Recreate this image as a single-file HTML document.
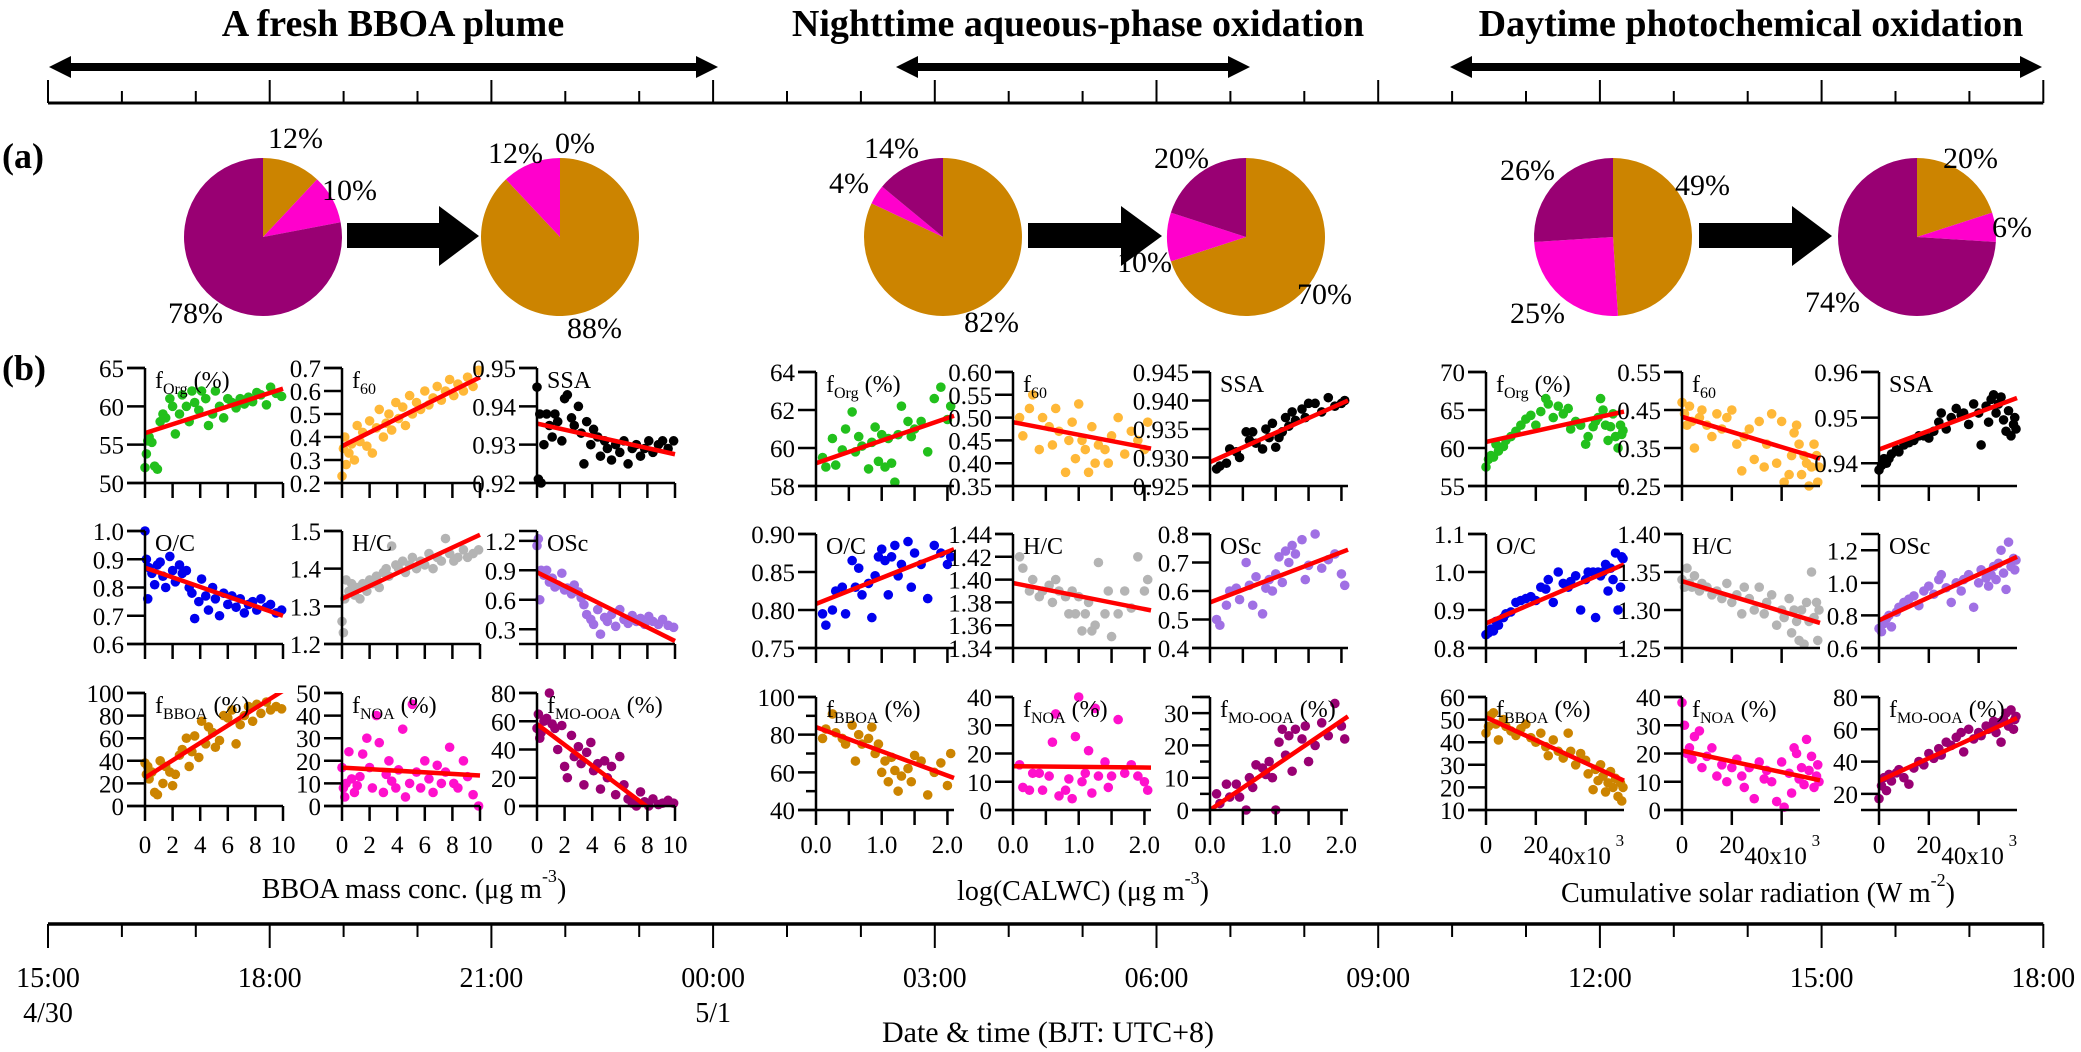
<!DOCTYPE html>
<html><head><meta charset="utf-8"><style>
html,body{margin:0;padding:0;background:#fff;}
svg{display:block;font-family:"Liberation Serif",serif;}
svg text{font-family:"Liberation Serif",serif;}
</style></head><body>
<svg id="fig" xmlns="http://www.w3.org/2000/svg" width="2081" height="1052" viewBox="0 0 2081 1052" font-family="Liberation Serif, serif">
<rect width="2081" height="1052" fill="#fff"/>
<g font-weight="bold" font-size="38" text-anchor="middle">
<text x="393" y="36">A fresh BBOA plume</text>
<text x="1078" y="36">Nighttime aqueous-phase oxidation</text>
<text x="1751" y="36">Daytime photochemical oxidation</text>
</g>
<text x="2" y="168" font-size="36" font-weight="bold">(a)</text>
<text x="2" y="380" font-size="36" font-weight="bold">(b)</text>
<g id="top"></g>
<g id="pies"></g>
<g id="panels"></g>
<g id="bottom"></g>
</svg>
<script>
// ---------- data ----------
const pieBBOA = [12, 88, 82, 70, 49, 20];
const pieNOA  = [10, 12, 4, 10, 25, 6];
const pieMO   = [78, 0, 14, 20, 26, 74];
const timeLabels = ["15:00","18:00","21:00","00:00","03:00","06:00","09:00","12:00","15:00","18:00"];
const dateLabels = ["4/30","","","5/1","","","","","",""];

const xBBOA = [0,0.1,0.2,0.3,0.5,0.7,0.9,1.1,1.3,1.5,1.8,2.0,2.2,2.5,2.7,3.0,3.2,3.4,3.6,3.9,4.1,4.4,4.6,4.9,5.1,5.4,5.7,6.0,6.3,6.6,6.9,7.2,7.5,7.8,8.1,8.4,8.8,9.1,9.5,9.9];
const xCALWC = [0.1,0.15,0.25,0.3,0.4,0.45,0.55,0.6,0.65,0.7,0.8,0.85,0.9,0.95,1.0,1.05,1.1,1.15,1.2,1.25,1.3,1.4,1.45,1.5,1.6,1.7,1.8,1.9,2.0,2.05];
const xSolar = [0,1,2,3,4,5,7,8,10,12,14,16,18,20,22,24,25,27,29,31,33,34,36,38,40,41,43,44,45,46,47,48,49,50,51,52,53,54,54.5,55];

const g1_fOrg = [52,53.8,55.5,56,55.3,52.2,51.8,58,59,58.5,61,60,56.4,59,61.5,60,58,62,60.5,59.5,62,61,57.5,59,62,60,58.5,61,60.5,59.8,61,60.3,61.2,60.6,61.8,61.5,60.2,62.5,61.7,61.3];
const g1_f60 = [0.23,0.35,0.4,0.28,0.33,0.37,0.3,0.45,0.38,0.42,0.36,0.47,0.33,0.44,0.52,0.4,0.46,0.5,0.43,0.55,0.48,0.53,0.45,0.58,0.5,0.55,0.52,0.6,0.54,0.57,0.62,0.56,0.6,0.65,0.58,0.63,0.6,0.66,0.62,0.69];
const g1_SSA = [0.945,0.921,0.938,0.920,0.930,0.938,0.935,0.932,0.938,0.936,0.931,0.942,0.943,0.937,0.935,0.940,0.933,0.925,0.936,0.930,0.934,0.932,0.927,0.931,0.929,0.926,0.930,0.928,0.931,0.925,0.929,0.930,0.927,0.929,0.931,0.928,0.930,0.931,0.929,0.931];
const g1_OC = [1.0,0.90,0.76,0.87,0.85,0.81,0.88,0.89,0.84,0.80,0.91,0.86,0.82,0.88,0.85,0.86,0.80,0.78,0.69,0.75,0.83,0.77,0.72,0.80,0.76,0.70,0.78,0.74,0.77,0.73,0.76,0.71,0.74,0.75,0.72,0.76,0.73,0.74,0.71,0.72];
const g1_HC = [1.26,1.23,1.32,1.37,1.34,1.36,1.33,1.35,1.32,1.36,1.34,1.37,1.36,1.38,1.35,1.39,1.40,1.38,1.46,1.41,1.40,1.42,1.39,1.41,1.43,1.40,1.42,1.41,1.44,1.40,1.43,1.42,1.48,1.44,1.42,1.43,1.45,1.43,1.44,1.45];
const g1_OSc = [1.15,1.22,0.6,0.9,0.85,0.9,0.78,0.82,0.73,0.75,0.87,0.7,0.72,0.66,0.75,0.68,0.62,0.55,0.45,0.4,0.35,0.5,0.25,0.42,0.38,0.45,0.33,0.5,0.4,0.36,0.44,0.38,0.41,0.35,0.43,0.38,0.35,0.40,0.34,0.32];
const g1_fBBOA = [38,28,35,24,30,12,10,40,20,35,30,18,28,45,50,60,35,48,62,43,75,55,70,65,52,58,80,78,85,55,72,80,88,75,90,82,92,85,88,86];
const g1_fNOA = [17,8,4,10,24,12,6,9,13,23,30,17,8,40,28,6,14,20,11,8,16,34,4,10,45,15,8,20,12,6,18,10,15,26,10,8,20,13,5,0];
const g1_fMO = [55,65,48,52,60,62,80,58,55,40,57,28,20,50,35,42,30,15,38,45,25,30,12,32,20,28,8,35,15,5,2,0,10,3,0,5,1,2,4,2];

const g2_fOrg = [59.5,59.0,60.5,59.1,59.9,61.0,61.9,59.8,60.6,60.1,58.9,60.3,61.1,59.3,60.7,59.0,60.5,59.2,58.2,60.7,62.2,61.4,60.6,61.0,61.4,59.8,62.6,63.2,61.5,62.2];
const g2_f60 = [0.50,0.46,0.52,0.55,0.43,0.50,0.48,0.44,0.52,0.47,0.38,0.45,0.49,0.41,0.53,0.45,0.43,0.38,0.48,0.40,0.44,0.43,0.40,0.46,0.50,0.42,0.47,0.45,0.43,0.49];
const g2_SSA = [0.928,0.9285,0.929,0.9315,0.931,0.930,0.9345,0.933,0.9345,0.9325,0.9315,0.935,0.9335,0.936,0.9318,0.9335,0.9345,0.937,0.9355,0.938,0.9365,0.9385,0.937,0.9395,0.9395,0.938,0.9405,0.939,0.9395,0.940];
const g2_OC = [0.795,0.78,0.80,0.825,0.83,0.795,0.865,0.83,0.855,0.82,0.835,0.79,0.845,0.87,0.88,0.865,0.82,0.87,0.885,0.845,0.86,0.89,0.83,0.875,0.86,0.815,0.885,0.875,0.86,0.87];
const g2_HC = [1.42,1.41,1.39,1.40,1.385,1.39,1.395,1.38,1.40,1.39,1.385,1.37,1.39,1.37,1.385,1.355,1.37,1.38,1.355,1.36,1.415,1.37,1.39,1.35,1.37,1.39,1.375,1.42,1.39,1.40];
const g2_OSc = [0.50,0.48,0.55,0.60,0.61,0.57,0.70,0.62,0.55,0.65,0.52,0.61,0.64,0.60,0.66,0.72,0.63,0.74,0.70,0.76,0.73,0.78,0.64,0.69,0.80,0.68,0.71,0.73,0.66,0.62];
const g2_fBBOA = [78,83,91,81,78,75,85,66,80,75,78,84,70,75,60,66,55,68,61,50,58,62,55,69,66,48,60,65,53,70];
const g2_fNOA = [16,8,7,13,13,7,12,24,34,5,7,11,4,26,40,10,13,21,6,36,12,17,8,12,32,13,16,12,10,7];
const g2_fMO = [5,2,8,4,8,4,0,10,7,14,13,11,15,10,0,21,25,17,23,12,25,22,26,15,20,27,23,33,26,22];

const g3_fOrg = [57.5,58.5,59,58.8,60.5,59.6,60.2,61,61.5,62.2,63,63.8,64.3,63,64.8,66.5,65.8,64,65.5,64.5,65.2,62.5,63.5,63,60.5,61.5,62.8,63.5,64,66.5,65,63,61,62.8,64.5,61.5,60,63,61.8,62.3];
const g3_f60 = [0.47,0.44,0.41,0.46,0.42,0.35,0.43,0.45,0.41,0.38,0.44,0.40,0.43,0.45,0.36,0.29,0.38,0.40,0.32,0.42,0.30,0.36,0.44,0.31,0.42,0.26,0.28,0.33,0.39,0.41,0.36,0.28,0.33,0.31,0.25,0.30,0.36,0.33,0.26,0.30];
const g3_SSA = [0.9385,0.9395,0.941,0.940,0.941,0.942,0.943,0.9425,0.944,0.9445,0.945,0.946,0.946,0.9455,0.947,0.949,0.951,0.9475,0.950,0.952,0.9505,0.951,0.9485,0.953,0.951,0.944,0.9525,0.949,0.954,0.955,0.951,0.953,0.9545,0.9495,0.947,0.9515,0.946,0.9485,0.950,0.9475];
const g3_OC = [0.835,0.84,0.85,0.845,0.87,0.86,0.88,0.89,0.895,0.92,0.925,0.93,0.935,0.925,0.96,0.955,0.98,0.92,1.0,0.97,0.96,0.975,0.99,0.9,0.98,1.0,1.0,0.88,1.0,0.99,1.0,1.02,0.95,1.01,0.98,1.05,0.9,0.96,1.04,1.035];
const g3_HC = [1.34,1.33,1.355,1.335,1.33,1.345,1.325,1.335,1.33,1.32,1.325,1.315,1.335,1.31,1.32,1.295,1.33,1.315,1.30,1.33,1.295,1.31,1.32,1.28,1.30,1.29,1.315,1.27,1.30,1.285,1.26,1.30,1.255,1.31,1.285,1.35,1.29,1.31,1.26,1.30];
const g3_OSc = [0.72,0.70,0.75,0.78,0.80,0.73,0.82,0.85,0.88,0.90,0.92,0.86,0.95,0.98,0.93,1.02,1.05,0.97,0.88,1.00,0.95,1.02,1.05,0.85,1.0,1.08,1.03,0.98,1.05,1.10,1.02,1.12,1.2,1.06,0.96,1.25,1.1,1.15,1.08,1.14];
const g3_fBBOA = [44,47,52,53,48,41,50,47,45,43,46,48,42,40,44,38,34,41,36,33,44,36,30,35,32,26,19,28,23,30,25,18,22,27,20,24,16,22,14,20];
const g3_fNOA = [38,30,20,22,18,26,28,15,19,22,12,16,10,15,18,12,8,15,4,17,11,14,10,3,17,1,13,6,22,20,11,15,9,25,14,19,8,12,16,10];
const g3_fMO = [17,25,30,22,32,28,33,35,30,26,36,40,38,45,42,48,44,52,50,55,58,46,60,54,58,56,62,60,62,65,58,64,52,66,70,62,72,60,66,68];

// fit line values at x = domain min and domain max
const fitStart = [[56.5,0.36,0.9355,0.87,1.32,0.88,25,17,58],[59.2,0.49,0.9292,0.808,1.397,0.56,84,15.5,0],[60.8,0.432,0.943,0.865,1.338,0.77,51,21,28]];
const fitEnd   = [[62.3,0.66,0.9275,0.70,1.49,0.18,102,13.5,-15.4],[61.7,0.432,0.940,0.880,1.373,0.745,57,15,29],[64.8,0.322,0.9543,1.02,1.283,1.16,23,10.5,67]];

const NS = "http://www.w3.org/2000/svg";
function mk(tag, attrs, parent){ const e=document.createElementNS(NS,tag); for(const k in attrs) e.setAttribute(k,attrs[k]); parent.appendChild(e); return e; }

// ---------- top and bottom axes ----------
const AX0 = 48, AXSTEP = 221.7;
const topG = document.getElementById('top');
const botG = document.getElementById('bottom');
function timeX(i){ return AX0 + i*AXSTEP; }
let ln = mk('line',{x1:AX0,y1:103,x2:timeX(9),y2:103,stroke:'#000','stroke-width':3},topG);


ln = mk('line',{x1:AX0,y1:924,x2:timeX(9),y2:924,stroke:'#000','stroke-width':3.5},botG);


for(let i=0;i<=27;i++){
  const x = AX0 + i*AXSTEP/3, major = i%3===0;
  let t = mk('line',{x1:x,y1:103,x2:x,y2:major?80:91,stroke:'#000','stroke-width':2},topG);
  
  
  t = mk('line',{x1:x,y1:924,x2:x,y2:major?948:937,stroke:'#000','stroke-width':2},botG);
  
  
}
timeLabels.forEach((s,i)=>{
  const t = mk('text',{x:timeX(i),y:987,'font-size':28,'text-anchor':'middle'},botG);
  
  
  t.textContent = s;
  if(dateLabels[i]){
    const d = mk('text',{x:timeX(i),y:1022,'font-size':28,'text-anchor':'middle'},botG);
    
    
    d.textContent = dateLabels[i];
  }
});
let tt = mk('text',{x:1048,y:1042,'font-size':30,'text-anchor':'middle'},botG);


tt.textContent = 'Date & time (BJT: UTC+8)';

// double arrows
[[49,718],[896,1250],[1450,2042]].forEach(a=>{
  const p = mk('path',{d:`M${a[0]},67 L${a[0]+22},56 L${a[0]+22},63 L${a[1]-22},63 L${a[1]-22},56 L${a[1]},67 L${a[1]-22},78 L${a[1]-22},71 L${a[0]+22},71 L${a[0]+22},78 Z`,fill:'#000'},topG);
  
  
});

// ---------- pies ----------
const pieG = document.getElementById('pies');
const pieCX = [263,560,943,1246,1613,1917], PCY = 237, PR = 79;
const pieColors = ['#cc8400','#ff00cc','#990073'];
const pieNames = ['bboa','noa','mo-ooa'];
const pieLabelPos = [
  [[268,148],[322,200],[168,323]],
  [[567,338],[488,163],[555,153]],
  [[964,332],[829,193],[864,158]],
  [[1297,304],[1117,272],[1154,168]],
  [[1675,195],[1510,323],[1500,180]],
  [[1943,168],[1992,237],[1805,312]]
];
pieCX.forEach((cx,i)=>{
  const vals = [pieBBOA[i],pieNOA[i],pieMO[i]];
  const tot = vals[0]+vals[1]+vals[2];
  let a0 = 0;
  vals.forEach((v,k)=>{
    if(v<=0) return;
    const a1 = a0 + v/tot*2*Math.PI;
    const x0 = cx+PR*Math.sin(a0), y0 = PCY-PR*Math.cos(a0);
    const x1 = cx+PR*Math.sin(a1), y1 = PCY-PR*Math.cos(a1);
    let d;
    if(v>=tot) d = `M${cx},${PCY-PR} A${PR},${PR} 0 1 1 ${cx-0.01},${PCY-PR} Z`;
    else d = `M${cx},${PCY} L${x0},${y0} A${PR},${PR} 0 ${a1-a0>Math.PI?1:0} 1 ${x1},${y1} Z`;
    const s = mk('path',{d:d,fill:pieColors[k]},pieG);
    
    
    a0 = a1;
  });
  vals.forEach((v,k)=>{
    const p = pieLabelPos[i][k];
    const t = mk('text',{x:p[0],y:p[1],'font-size':30},pieG);
    
    
    t.textContent = v+'%';
  });
});
[[347,439,479],[1028,1121,1162],[1699,1792,1832]].forEach(a=>{
  const p = mk('path',{d:`M${a[0]},223 L${a[1]},223 L${a[1]},206 L${a[2]},236 L${a[1]},266 L${a[1]},248 L${a[0]},248 Z`,fill:'#000'},pieG);
  
  
});

// ---------- scatter panels ----------
const panG = document.getElementById('panels');
const groupAxisX = [[145,342,537],[816,1013,1210],[1486,1682,1879]];
const groupRows = [[[368,483],[531,644],[693,806]],[[372,486],[534,648],[697,810]],[[372,486],[534,648],[697,810]]];
const PW = 138;
const groupX = [xBBOA, xCALWC, xSolar];
const groupXDom = [[0,10],[0,2.1],[0,55.4]];
const groupXTicks = [[0,2,4,6,8,10],[0,0.5,1,1.5,2],[0,20,40]];
const groupXLabels = [[[0,'0'],[2,'2'],[4,'4'],[6,'6'],[8,'8'],[10,'10']],[[0,'0.0'],[1,'1.0'],[2,'2.0']],[[0,'0'],[20,'20']]];
const colors = ['#22c01c','#ffb838','#000000','#0000ee','#b4b4b4','#a070e4','#cc8400','#ff10cc','#990073'];
const labels = [['f','Org',' (%)'],['f','60',''],['SSA','',''],['O/C','',''],['H/C','',''],['OSc','',''],['f','BBOA',' (%)'],['f','NOA',' (%)'],['f','MO-OOA',' (%)']];
const names = ['forg','f60','ssa','oc','hc','osc','fbboa','fnoa','fmo-ooa'];
const ys = [[g1_fOrg,g1_f60,g1_SSA,g1_OC,g1_HC,g1_OSc,g1_fBBOA,g1_fNOA,g1_fMO],
            [g2_fOrg,g2_f60,g2_SSA,g2_OC,g2_HC,g2_OSc,g2_fBBOA,g2_fNOA,g2_fMO],
            [g3_fOrg,g3_f60,g3_SSA,g3_OC,g3_HC,g3_OSc,g3_fBBOA,g3_fNOA,g3_fMO]];
const yDom = [
 [[50,65],[0.2,0.7],[0.92,0.95],[0.6,1.0],[1.2,1.5],[0.15,1.3],[0,100],[0,50],[0,80]],
 [[58,64],[0.35,0.60],[0.925,0.945],[0.75,0.90],[1.34,1.44],[0.4,0.8],[40,100],[0,40],[0,35]],
 [[55,70],[0.25,0.55],[0.935,0.96],[0.8,1.1],[1.25,1.40],[0.6,1.3],[10,60],[0,40],[10,80]]];
const yTicks = [
 [[50,55,60,65],[0.2,0.3,0.4,0.5,0.6,0.7],[0.92,0.93,0.94,0.95],[0.6,0.7,0.8,0.9,1.0],[1.2,1.3,1.4,1.5],[0.3,0.6,0.9,1.2],[0,20,40,60,80,100],[0,10,20,30,40,50],[0,20,40,60,80]],
 [[58,60,62,64],[0.35,0.40,0.45,0.50,0.55,0.60],[0.925,0.930,0.935,0.940,0.945],[0.75,0.80,0.85,0.90],[1.34,1.36,1.38,1.40,1.42,1.44],[0.4,0.5,0.6,0.7,0.8],[40,60,80,100],[0,10,20,30,40],[0,10,20,30]],
 [[55,60,65,70],[0.25,0.35,0.45,0.55],[0.94,0.95,0.96],[0.8,0.9,1.0,1.1],[1.25,1.30,1.35,1.40],[0.6,0.8,1.0,1.2],[10,20,30,40,50,60],[0,10,20,30,40],[20,40,60,80]]];
const yMinor = [[[],[],[],[],[],[],[],[],[]],[[],[],[],[],[],[],[50,70,90],[],[5,15,25,35]],[[],[],[],[],[],[],[],[],[]]];
const yDec = [[0,1,2,1,1,1,0,0,0],[0,2,3,2,2,1,0,0,0],[0,2,2,1,2,1,0,0,0]];

for(let g=0; g<3; g++){
  const xd = groupXDom[g];
  for(let p=0; p<9; p++){
    const r = Math.floor(p/3), c = p%3;
    const X0 = groupAxisX[g][c], top = groupRows[g][r][0], bot = groupRows[g][r][1];
    const yd = yDom[g][p];
    const sx = v => X0 + (v-xd[0])/(xd[1]-xd[0])*PW;
    const sy = v => bot - (v-yd[0])/(yd[1]-yd[0])*(bot-top);
    const pg = mk('g',{},panG);
    
    
    const cid = 'clip'+g+'_'+p;
    const cp = mk('clipPath',{id:cid},pg);
    mk('rect',{x:X0,y:top,width:PW+4,height:bot-top},cp);
    const xs = groupX[g], yv = ys[g][p];
    for(let i=0;i<yv.length;i++){
      const d = mk('circle',{cx:sx(xs[i]),cy:sy(yv[i]),r:4.8,fill:colors[p]},pg);
      
      
    }
    const f = mk('line',{x1:sx(xd[0]),y1:sy(fitStart[g][p]),x2:sx(xd[1]),y2:sy(fitEnd[g][p]),stroke:'#ff0000','stroke-width':4.5,'clip-path':'url(#'+cid+')'},pg);
    
    
    const ya = mk('line',{x1:X0,y1:top,x2:X0,y2:bot,stroke:'#000','stroke-width':2.5},pg);
    
    
    const xa = mk('line',{x1:X0-18,y1:bot,x2:X0+PW,y2:bot,stroke:'#000','stroke-width':2.5},pg);
    
    
    const cap = mk('line',{x1:X0-18,y1:top,x2:X0,y2:top,stroke:'#000','stroke-width':2.5},pg);
    
    
    yTicks[g][p].forEach(v=>{
      const y = sy(v);
      const t = mk('line',{x1:X0-18,y1:y,x2:X0,y2:y,stroke:'#000','stroke-width':2.5},pg);
      
      
      const lb = mk('text',{x:X0-21,y:y+9,'font-size':25,'text-anchor':'end'},pg);
      
      
      lb.textContent = v.toFixed(yDec[g][p]);
    });
    yMinor[g][p].forEach(v=>{
      const y = sy(v);
      const t = mk('line',{x1:X0-10,y1:y,x2:X0,y2:y,stroke:'#000','stroke-width':2.5},pg);
      
      
    });
    groupXTicks[g].forEach(v=>{
      const x = sx(v);
      const t = mk('line',{x1:x,y1:bot,x2:x,y2:bot+15,stroke:'#000','stroke-width':2.5},pg);
      
      
    });
    if(r===2){
      groupXLabels[g].forEach(l=>{
        const t = mk('text',{x:sx(l[0]),y:853,'font-size':25,'text-anchor':'middle'},pg);
        
        
        t.textContent = l[1];
      });
      if(g===2){
        const t = mk('text',{x:sx(40)-6,y:864,'font-size':25,'text-anchor':'middle'},pg);
        
        
        t.textContent = '40x10';
        const s = mk('text',{x:sx(40)+30,y:846,'font-size':17},pg);
        
        
        s.textContent = '3';
      }
    }
    const L = labels[p];
    const lt = mk('text',{x:X0+10,y:top+20,'font-size':24},pg);
    
    
    const t1 = mk('tspan',{},lt); t1.textContent = L[0];
    if(L[1]){ const t2 = mk('tspan',{dy:6,'font-size':16},lt); t2.textContent = L[1]; }
    if(L[2]){ const t3 = mk('tspan',{dy:-6},lt); t3.textContent = L[2]; }
  }
}
[[414,898,'BBOA mass conc. (\u03bcg m','-3',')'],[1083,900,'log(CALWC) (\u03bcg m','-3',')'],[1758,902,'Cumulative solar radiation (W m','-2',')']].forEach((a,i)=>{
  const t = mk('text',{x:a[0],y:a[1],'font-size':28,'text-anchor':'middle'},panG);
  
  
  const s1 = mk('tspan',{},t); s1.textContent = a[2];
  const s2 = mk('tspan',{dy:-16,'font-size':18},t); s2.textContent = a[3];
  const s3 = mk('tspan',{dy:16},t); s3.textContent = a[4];
});
</script>
</body></html>
